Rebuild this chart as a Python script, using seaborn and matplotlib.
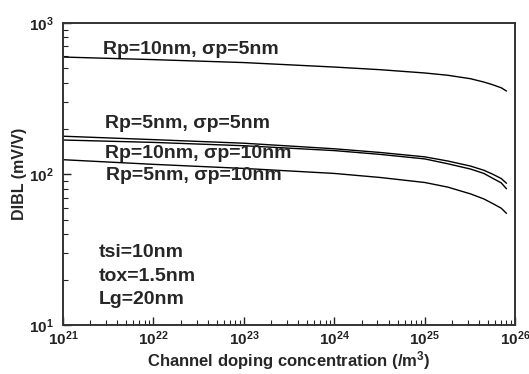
import numpy as np
import pandas as pd
import matplotlib
matplotlib.use('Agg')
import matplotlib.pyplot as plt
import seaborn as sns

# values
doping = [1e21, 1e22, 1e23, 1e24, 3.2e24, 1e25, 1.8e25, 3.2e25, 4.5e25, 5.6e25, 7e25, 8e25]
dibl_rp10_s5 = [594, 571, 546, 510, 490, 466, 450, 427, 406, 390, 372, 354]
dibl_rp5_s5 = [178, 169, 160, 147, 139, 130, 122, 113, 106, 100, 93.5, 87]
dibl_rp10_s10 = [168, 162, 154, 143, 135, 126, 117, 108, 101, 94, 87.5, 80]
dibl_rp5_s10 = [124.5, 116, 109, 101, 95, 88, 82, 74, 68.5, 64, 59.5, 55]

series_labels = ['Rp=10nm, σp=5nm', 'Rp=5nm, σp=5nm',
                 'Rp=10nm, σp=10nm', 'Rp=5nm, σp=10nm']
params_text = ['tsi=10nm', 'tox=1.5nm', 'Lg=20nm']

sns.set_style('ticks')
plt.rcParams['font.family'] = ['Liberation Sans', 'DejaVu Sans']
plt.rcParams['font.weight'] = 'bold'
plt.rcParams['mathtext.fontset'] = 'custom'
plt.rcParams['mathtext.bf'] = 'Liberation Sans:bold'
plt.rcParams['mathtext.rm'] = 'Liberation Sans:bold'
plt.rcParams['mathtext.default'] = 'bf'

fig = plt.figure(figsize=(5.29, 3.74), dpi=100)
ax = fig.add_axes([0.119, 0.13, 0.855, 0.809])

for vals in [dibl_rp10_s5, dibl_rp5_s5, dibl_rp10_s10, dibl_rp5_s10]:
    sns.lineplot(x=doping, y=vals, ax=ax, color='black', linewidth=1.0)

ax.set_xscale('log')
ax.set_yscale('log')
ax.set_xlim(1e21, 1e26)
ax.set_ylim(10, 1000)

ax.tick_params(which='both', direction='in', top=False, right=False, colors='#222222')
ax.tick_params(which='major', length=6, width=1, labelsize=11, pad=3)
ax.tick_params(which='minor', length=3.5, width=0.8)
ax.tick_params(axis='y', which='major', pad=7)
for s in ax.spines.values():
    s.set_linewidth(1.4)
    s.set_color('#333333')

ax.set_xlabel('Channel doping concentration (/m$^{3}$)', fontsize=12, fontweight='bold', labelpad=1)
ax.set_ylabel('DIBL (mV/V)', fontsize=11.5, fontweight='bold', labelpad=1)

# curve labels (axes fraction)
label_pos = [(0.088, 0.898), (0.093, 0.652), (0.092, 0.554), (0.095, 0.480)]
for txt, (px, py) in zip(series_labels, label_pos):
    ax.text(px, py, txt, transform=ax.transAxes, fontsize=14, fontweight='bold',
            va='baseline', ha='left')

for i, txt in enumerate(params_text):
    ax.text(0.079, 0.226 - i * 0.078, txt, transform=ax.transAxes, fontsize=14,
            fontweight='bold', va='baseline', ha='left')

plt.savefig('out.png', dpi=100)
